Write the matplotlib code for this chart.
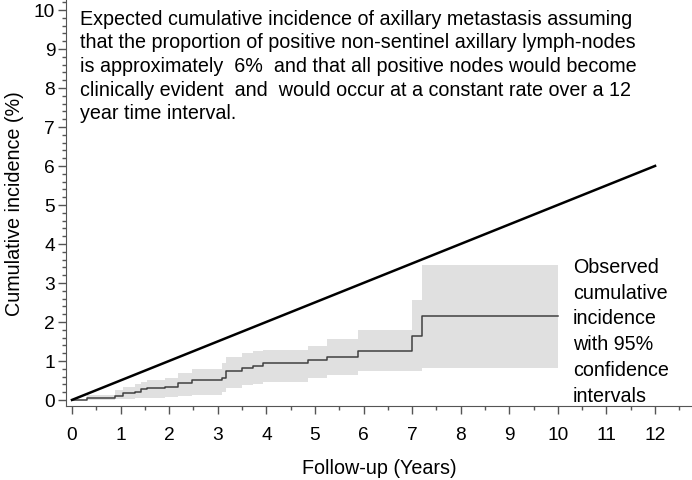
import numpy as np
import matplotlib
matplotlib.use("Agg")
import matplotlib.pyplot as plt
from matplotlib.ticker import MultipleLocator

plt.rcParams['font.family'] = ['Liberation Sans', 'DejaVu Sans']

# expected incidence line
exp_years = [0, 12]
exp_inc = [0, 6]

# observed cumulative incidence (step) with 95% CI
obs_years = [0, 0.3, 0.88, 1.05, 1.3, 1.43, 1.54, 1.91, 2.19, 2.46, 3.08, 3.16,
             3.49, 3.73, 3.93, 4.86, 5.24, 5.88, 6.99, 7.2, 10.0]
obs_inc = [0, 0.05, 0.1, 0.17, 0.21, 0.27, 0.3, 0.33, 0.44, 0.51, 0.56, 0.73,
           0.81, 0.87, 0.94, 1.03, 1.11, 1.26, 1.65, 2.14, 2.14]
obs_low = [0, 0, 0.02, 0.03, 0.04, 0.05, 0.06, 0.07, 0.1, 0.12, 0.2, 0.3,
           0.38, 0.42, 0.47, 0.56, 0.64, 0.73, 0.73, 0.81, 0.81]
obs_up = [0, 0.12, 0.26, 0.34, 0.4, 0.45, 0.5, 0.55, 0.7, 0.8, 0.95, 1.1,
          1.2, 1.25, 1.28, 1.37, 1.56, 1.8, 2.56, 3.46, 3.46]

fig = plt.figure(figsize=(6.92, 4.81), dpi=100)
ax = fig.add_axes([0.0954, 0.154, 0.9046, 0.846])

ax.fill_between(obs_years, obs_low, obs_up, step='post', color='#e0e0e0', lw=0)
ax.step(obs_years, obs_inc, where='post', color='#404040', lw=1.1)
ax.plot(exp_years, exp_inc, color='black', lw=1.8)

ax.set_xlim(-0.123, 12.76)
ax.set_ylim(-0.154, 10.28)
ax.xaxis.set_major_locator(MultipleLocator(1))
ax.xaxis.set_minor_locator(MultipleLocator(0.5))
ax.yaxis.set_major_locator(MultipleLocator(1))
ax.yaxis.set_minor_locator(MultipleLocator(0.2))
ax.tick_params(which='major', length=5.8, width=1, colors='#555555', labelcolor='black', labelsize=13.8)
ax.tick_params(which='minor', length=3.2, width=1, colors='#555555')
ax.tick_params(axis='x', which='major', pad=8.5)
ax.tick_params(axis='y', which='major', pad=2)

for s in ['top', 'right']:
    ax.spines[s].set_visible(False)
for s in ['left', 'bottom']:
    ax.spines[s].set_color('#555555')

ax.set_xlabel("Follow-up (Years)", fontsize=14.2, labelpad=11)
ax.set_ylabel("Cumulative incidence (%)", fontsize=14.2, labelpad=7)

ax.text(0.0223, 0.976,
        "Expected cumulative incidence of axillary metastasis assuming\n"
        "that the proportion of positive non-sentinel axillary lymph-nodes\n"
        "is approximately  6%  and that all positive nodes would become\n"
        "clinically evident  and  would occur at a constant rate over a 12\n"
        "year time interval.",
        transform=ax.transAxes, ha='left', va='top', fontsize=14.2, linespacing=1.31)

ax.text(0.81, 0.366,
        "Observed\ncumulative\nincidence\nwith 95%\nconfidence\nintervals",
        transform=ax.transAxes, ha='left', va='top', fontsize=14.2, linespacing=1.45)

fig.savefig("out.png", dpi=100)
